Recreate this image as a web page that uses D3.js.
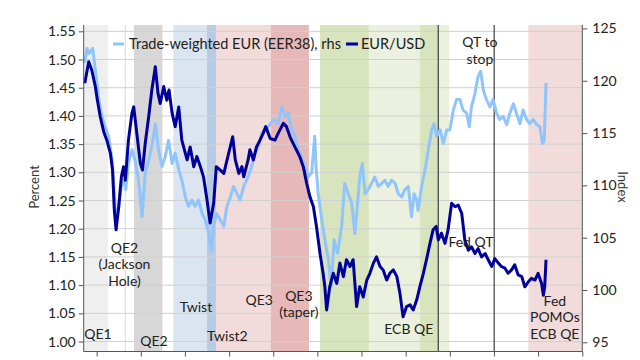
<!DOCTYPE html>
<html><head><meta charset="utf-8">
<script src="https://cdn.jsdelivr.net/npm/d3@7"></script>
<style>
html,body{margin:0;padding:0;background:#fff;}
svg{display:block;font-family:Lato,"Open Sans",sans-serif;}
</style></head>
<body>
<svg id="chart" width="640" height="360"></svg>
<script>
// ---- data (dates as decimal years) ----
const usdDates = [2009.73,2009.82,2009.89,2009.97,2010.01,2010.08,2010.16,2010.23,2010.31,2010.36,2010.40,2010.44,2010.50,2010.56,2010.61,2010.65,2010.72,2010.80,2010.84,2010.91,2010.99,2011.04,2011.10,2011.18,2011.25,2011.33,2011.39,2011.44,2011.52,2011.59,2011.64,2011.71,2011.78,2011.86,2011.93,2012.05,2012.12,2012.20,2012.27,2012.35,2012.42,2012.50,2012.57,2012.65,2012.71,2012.80,2012.88,2012.99,2013.08,2013.14,2013.22,2013.29,2013.33,2013.43,2013.47,2013.55,2013.62,2013.70,2013.77,2013.83,2013.93,2014.04,2014.11,2014.23,2014.30,2014.38,2014.49,2014.60,2014.68,2014.76,2014.83,2014.91,2014.98,2015.06,2015.13,2015.17,2015.21,2015.28,2015.36,2015.44,2015.51,2015.59,2015.66,2015.74,2015.81,2015.89,2015.96,2016.04,2016.12,2016.19,2016.27,2016.34,2016.42,2016.49,2016.57,2016.64,2016.72,2016.80,2016.87,2016.94,2017.02,2017.10,2017.17,2017.25,2017.32,2017.40,2017.47,2017.55,2017.62,2017.69,2017.74,2017.81,2017.89,2017.96,2018.04,2018.12,2018.19,2018.27,2018.34,2018.42,2018.49,2018.57,2018.64,2018.72,2018.80,2018.87,2018.95,2019.02,2019.10,2019.17,2019.25,2019.32,2019.40,2019.47,2019.55,2019.63,2019.70,2019.78,2019.85,2019.93,2020.00,2020.08,2020.12,2020.15,2020.18];
const usdValues = [1.458,1.496,1.481,1.452,1.431,1.399,1.372,1.357,1.334,1.304,1.233,1.198,1.239,1.292,1.310,1.286,1.357,1.405,1.416,1.369,1.316,1.304,1.351,1.399,1.446,1.487,1.440,1.422,1.452,1.428,1.446,1.405,1.381,1.416,1.357,1.322,1.345,1.310,1.328,1.310,1.292,1.251,1.210,1.245,1.310,1.304,1.298,1.334,1.363,1.322,1.298,1.310,1.292,1.322,1.340,1.322,1.345,1.357,1.369,1.381,1.360,1.357,1.369,1.387,1.381,1.363,1.345,1.328,1.310,1.280,1.257,1.239,1.204,1.156,1.121,1.097,1.056,1.097,1.121,1.103,1.139,1.115,1.145,1.133,1.145,1.062,1.097,1.079,1.109,1.121,1.139,1.150,1.133,1.127,1.109,1.121,1.127,1.115,1.085,1.044,1.062,1.065,1.056,1.074,1.097,1.121,1.145,1.174,1.198,1.204,1.180,1.192,1.174,1.198,1.245,1.239,1.242,1.227,1.180,1.162,1.168,1.156,1.165,1.150,1.156,1.145,1.133,1.147,1.139,1.133,1.130,1.121,1.127,1.136,1.118,1.115,1.097,1.106,1.112,1.109,1.121,1.103,1.082,1.097,1.145];

const eerDates = [2009.73,2009.78,2009.83,2009.91,2009.97,2010.05,2010.12,2010.19,2010.27,2010.35,2010.40,2010.44,2010.50,2010.56,2010.61,2010.66,2010.72,2010.80,2010.87,2010.95,2011.03,2011.10,2011.18,2011.25,2011.33,2011.40,2011.48,2011.55,2011.63,2011.71,2011.78,2011.86,2011.93,2012.01,2012.08,2012.16,2012.23,2012.31,2012.39,2012.46,2012.54,2012.60,2012.65,2012.72,2012.80,2012.88,2012.95,2013.03,2013.10,2013.18,2013.25,2013.33,2013.43,2013.51,2013.59,2013.66,2013.74,2013.81,2013.89,2014.00,2014.11,2014.19,2014.27,2014.34,2014.42,2014.49,2014.57,2014.64,2014.72,2014.79,2014.87,2014.94,2014.97,2015.02,2015.10,2015.17,2015.25,2015.31,2015.38,2015.46,2015.55,2015.62,2015.70,2015.78,2015.85,2015.93,2015.96,2016.02,2016.08,2016.15,2016.23,2016.30,2016.38,2016.46,2016.53,2016.60,2016.68,2016.76,2016.83,2016.91,2016.98,2017.06,2017.13,2017.19,2017.25,2017.28,2017.36,2017.44,2017.51,2017.59,2017.64,2017.70,2017.78,2017.85,2017.93,2018.00,2018.08,2018.15,2018.23,2018.30,2018.38,2018.44,2018.49,2018.57,2018.64,2018.70,2018.76,2018.83,2018.91,2018.98,2019.06,2019.13,2019.21,2019.29,2019.36,2019.44,2019.51,2019.59,2019.66,2019.74,2019.81,2019.89,2019.97,2020.04,2020.10,2020.14,2020.18];
const eerValues = [121.7,123.1,122.6,123.1,121.0,118.2,116.6,115.6,114.7,112.4,109.2,106.7,108.0,109.9,110.5,109.6,112.1,113.4,112.4,110.5,107.0,111.2,112.4,113.7,115.9,113.4,111.8,112.7,114.3,112.1,113.1,111.5,110.5,108.9,108.0,108.6,108.0,108.6,107.3,106.7,105.4,103.8,106.1,107.3,106.7,106.1,108.0,108.9,109.9,109.2,108.6,109.9,110.8,111.8,113.1,113.7,115.0,115.3,115.6,116.3,115.9,117.5,116.6,116.9,115.3,114.7,113.4,112.7,111.8,110.8,111.2,114.7,111.8,109.2,106.7,104.8,102.9,100.3,104.8,103.5,106.1,110.2,109.2,108.3,105.4,109.2,110.8,112.1,109.2,109.6,110.2,110.8,109.9,110.2,110.5,109.9,110.5,110.2,109.2,108.9,109.6,109.9,107.0,109.2,108.6,107.6,109.9,111.5,113.4,115.3,115.9,114.7,115.3,114.0,115.3,115.3,117.2,118.2,118.2,117.2,116.9,115.6,117.5,118.8,120.4,120.9,119.1,118.2,117.5,118.2,116.9,116.3,116.6,115.8,116.9,117.8,116.9,115.9,117.2,116.3,115.9,116.3,115.8,115.6,114.0,114.3,119.8];

const leftTicks  = [1.00,1.05,1.10,1.15,1.20,1.25,1.30,1.35,1.40,1.45,1.50,1.55];
const rightTicks = [95,100,105,110,115,120,125];
const xTickYears = [2010,2011,2012,2013,2014,2015,2016,2017,2018,2019,2020,2021];

// policy bands: start, end (decimal years), kind
const bandStarts = [2009.706,2010.845,2011.740,2012.498,2012.702,2013.948,2015.058,2016.168,2017.323,2017.737,2019.780];
const bandEnds   = [2010.256,2011.490,2012.498,2012.702,2013.948,2014.808,2016.168,2017.323,2017.737,2017.986,2021.000];
const bandKinds  = ["qe1","qe2","twist","twist2","qe3","taper","ecb","ecbLight","ecb","ecbLight","pomo"];
const greyLines  = [2010.648];
const blackLines = [2017.737,2019.005];

const annotations = [
  {lines:["QE1"], date:2010.03, value:1.004},
  {lines:["QE2","(Jackson","Hole)"], date:2010.63, value:1.157},
  {lines:["QE2"], date:2011.30, value:0.992},
  {lines:["Twist"], date:2012.25, value:1.052},
  {lines:["Twist2"], date:2012.96, value:1.001},
  {lines:["QE3"], date:2013.68, value:1.065},
  {lines:["QE3","(taper)"], date:2014.58, value:1.072},
  {lines:["ECB QE"], date:2017.07, value:1.013},
  {lines:["Fed QT"], date:2018.48, value:1.168},
  {lines:["QT to","stop"], date:2018.68, value:1.522},
  {lines:["Fed","POMOs","ECB QE"], date:2020.38, value:1.063}
];

// ---- styles ----
const bandColor = {qe1:"#efefef", qe2:"#d7d7d7", twist:"#dbe5f1", twist2:"#b7cbe3", qe3:"#f2dcdb", taper:"#e6b9b8", ecb:"#d7e4bd", ecbLight:"#ebf1de", pomo:"#f2dcdb"};
const usdColor = "#00009a", eerColor = "#8fc5fb";

function toDate(y){
  const yr = Math.floor(y), f = y - yr;
  const a = Date.UTC(yr,0,1), b = Date.UTC(yr+1,0,1);
  return new Date(a + f*(b-a));
}

const svg = d3.select("#chart");
const L = 83.7, R = 582.3, T = 25, B = 351.5;

const x = d3.scaleUtc().domain([toDate(2009.706), toDate(2021.0)]).range([L, R]);
const yL = d3.scaleLinear().domain([0.9823, 1.5612]).range([B, T]);
const yR = d3.scaleLinear().domain([94.12, 125.33]).range([B, T]);

// bands
svg.append("g").selectAll("rect").data(bandStarts.map((s,i)=>({s, e:bandEnds[i], k:bandKinds[i]})))
  .join("rect")
  .attr("x", d=>x(toDate(d.s))).attr("width", d=>x(toDate(d.e))-x(toDate(d.s)))
  .attr("y", T).attr("height", B-T).attr("fill", d=>bandColor[d.k]);

// horizontal gridlines
svg.append("g").selectAll("line").data(leftTicks).join("line")
  .attr("x1", L).attr("x2", R).attr("y1", d=>yL(d)).attr("y2", d=>yL(d))
  .attr("stroke", "#d0d0d0").attr("stroke-width", 1);

svg.append("g").selectAll("line").data(greyLines).join("line")
  .attr("x1", d=>x(toDate(d))).attr("x2", d=>x(toDate(d))).attr("y1", T).attr("y2", B)
  .attr("stroke", "#d8d8d8").attr("stroke-width", 1);

svg.append("g").selectAll("line").data(blackLines).join("line")
  .attr("x1", d=>x(toDate(d))).attr("x2", d=>x(toDate(d))).attr("y1", T).attr("y2", B)
  .attr("stroke", "#1a1a1a").attr("stroke-width", 1);

// series
const eerData = eerDates.map((d,i)=>({d:toDate(d), v:eerValues[i]}));
const usdData = usdDates.map((d,i)=>({d:toDate(d), v:usdValues[i]}));
svg.append("path").datum(eerData)
  .attr("d", d3.line().x(p=>x(p.d)).y(p=>yR(p.v)))
  .attr("fill","none").attr("stroke", eerColor).attr("stroke-width", 3).attr("stroke-linejoin","round");
svg.append("path").datum(usdData)
  .attr("d", d3.line().x(p=>x(p.d)).y(p=>yL(p.v)))
  .attr("fill","none").attr("stroke", usdColor).attr("stroke-width", 3).attr("stroke-linejoin","round");

// axes
const axL = svg.append("g").attr("transform", `translate(${L},0)`)
  .call(d3.axisLeft(yL).tickValues(leftTicks).tickFormat(d3.format(".2f")).tickSize(5).tickPadding(3));
const axR = svg.append("g").attr("transform", `translate(${R},0)`)
  .call(d3.axisRight(yR).tickValues(rightTicks).tickFormat(d3.format("d")).tickSize(5).tickPadding(5));
const axB = svg.append("g").attr("transform", `translate(0,${B})`)
  .call(d3.axisBottom(x).tickValues(xTickYears.map(y=>toDate(y))).tickFormat("").tickSize(5));
[axL, axR, axB].forEach(g=>{
  g.select(".domain").attr("stroke","#555").attr("stroke-width",1);
  g.selectAll(".tick line").attr("stroke","#555");
  g.selectAll("text").attr("fill","#222").style("font-size","14px").style("font-family","Lato, sans-serif");
});
axL.select(".domain").attr("d", `M0,${T}V${B}`);
axR.select(".domain").attr("d", `M0,${T}V${B}`);
axB.select(".domain").attr("d", `M${L},0H${R}`);

// axis titles
svg.append("text").attr("transform", `translate(39,187) rotate(-90)`).attr("text-anchor","middle")
  .style("font-size","13px").attr("fill","#333").text("Percent");
svg.append("text").attr("transform", `translate(618,187) rotate(90)`).attr("text-anchor","middle")
  .style("font-size","13px").attr("fill","#333").text("Index");

// annotations
annotations.forEach(a=>{
  const t = svg.append("text").attr("text-anchor","middle")
    .attr("x", x(toDate(a.date))).attr("y", yL(a.value))
    .style("font-size","14px").attr("fill","#222");
  a.lines.forEach((ln,i)=>t.append("tspan").attr("x", x(toDate(a.date))).attr("dy", i===0?0:16.5).text(ln));
});

// legend
const lg = svg.append("g").attr("transform","translate(113,49)");
lg.append("line").attr("x1",0).attr("x2",11).attr("y1",-5).attr("y2",-5).attr("stroke",eerColor).attr("stroke-width",3);
lg.append("text").attr("x",16).attr("y",0).style("font-size","14.5px").attr("fill","#222").text("Trade-weighted EUR (EER38), rhs");
lg.append("line").attr("x1",233).attr("x2",245).attr("y1",-5).attr("y2",-5).attr("stroke",usdColor).attr("stroke-width",3);
lg.append("text").attr("x",248).attr("y",0).style("font-size","14.5px").attr("fill","#222").text("EUR/USD");
</script>
</body></html>
